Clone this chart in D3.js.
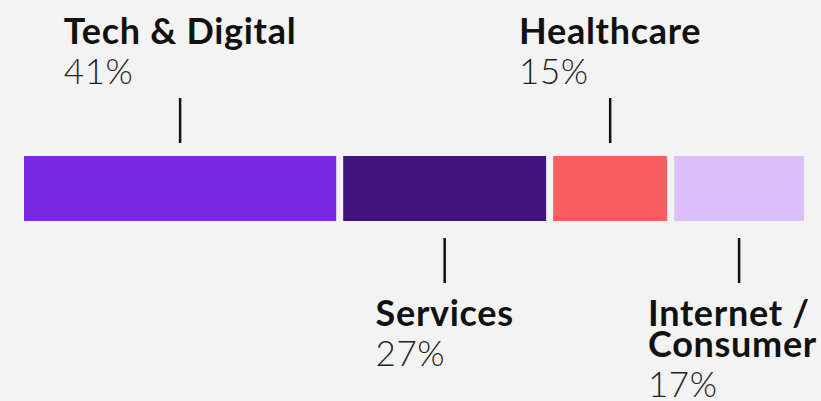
<!DOCTYPE html>
<html>
<head>
<meta charset="utf-8">
<script src="https://cdn.jsdelivr.net/npm/d3@7"></script>
<style>
  body { margin: 0; background: #f3f3f3; }
  svg { display: block; }
  .cat-label { font-family: Lato, sans-serif; font-weight: 700; font-size: 36px; letter-spacing: 0.7px; fill: #111; }
  .pct-label { font-family: Lato, sans-serif; font-weight: 300; font-size: 35px; letter-spacing: 0.5px; fill: #222; }
</style>
</head>
<body>
<div id="chart"></div>
<script>
const categories = ['Tech & Digital', 'Services', 'Healthcare', 'Internet /\nConsumer'];
const shares = [40.6, 26.7, 15.4, 17.4];
const colors = ['#7a29e1', '#43137d', '#f95e60', '#dcbeff'];

const width = 821, height = 401,
      margin = { left: 24, right: 17 },
      gap = 7,
      barTop = 156, barHeight = 65,
      lineStep = 31;

const svg = d3.select('#chart').append('svg')
      .attr('width', width)
      .attr('height', height);

svg.append('rect')
    .attr('width', width)
    .attr('height', height)
    .style('fill', '#f3f3f3');

const xScale = d3.scaleLinear()
      .domain([0, d3.sum(shares)])
      .range([margin.left, width - margin.right + gap]);

let running = 0;
const data = categories.map((name, i) => {
  const d = { name: name, share: shares[i], color: colors[i], start: running, top: i % 2 === 0 };
  running += shares[i];
  d.x0 = xScale(d.start);
  d.x1 = xScale(running) - gap;
  d.mid = (d.x0 + d.x1) / 2;
  return d;
});

// stacked bar
svg.append('g').selectAll('rect')
    .data(data)
  .enter().append('rect')
    .attr('x', d => d.x0)
    .attr('y', barTop)
    .attr('width', d => d.x1 - d.x0)
    .attr('height', barHeight)
    .style('fill', d => d.color);

// leader ticks, alternating above / below
svg.append('g').selectAll('line')
    .data(data)
  .enter().append('line')
    .attr('x1', d => d.mid)
    .attr('x2', d => d.mid)
    .attr('y1', d => d.top ? barTop - 58 : barTop + barHeight + 17)
    .attr('y2', d => d.top ? barTop - 13 : barTop + barHeight + 62)
    .style('stroke', '#111')
    .style('stroke-width', 2.5);

const fmt = d3.format('.0f');

const labels = svg.append('g').selectAll('g')
    .data(data)
  .enter().append('g');

labels.each(function(d) {
  const g = d3.select(this);
  const lines = d.name.split('\n');
  const base = d.top ? 44 : 326;

  g.append('text')
      .attr('class', 'cat-label')
      .attr('y', base)
    .selectAll('tspan')
      .data(lines)
    .enter().append('tspan')
      .attr('x', 0)
      .attr('dy', (l, k) => k === 0 ? 0 : lineStep)
      .text(l => l);

  g.append('text')
      .attr('class', 'pct-label')
      .attr('x', 0)
      .attr('y', Math.min(base + (lines.length - 1) * lineStep + 40, height - 4))
      .text(fmt(d.share) + '%');

  // centre the text block on its tick, but keep it inside the frame
  const w = this.getBBox().width;
  const left = Math.min(Math.max(d.mid - w / 2, 4), width - 4 - w);
  g.attr('transform', 'translate(' + left + ',0)');
});
</script>
</body>
</html>
